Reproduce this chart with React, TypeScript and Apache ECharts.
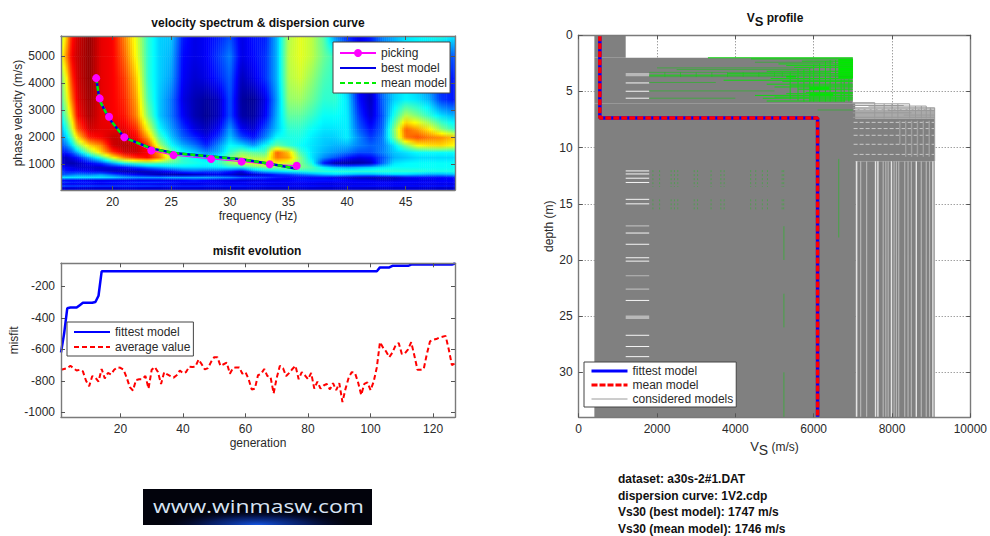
import React, { useEffect, useRef } from "react";
import * as echarts from "echarts";

const FONT = '"Liberation Sans", Arial, sans-serif';
const INK = "#2a2a2a";
const BOX = "#7a7a7a";

// ---- velocity spectrum (normalised amplitude)
const heatFrequencies = [15.6, 16, 16.5, 17, 18, 19, 20, 21, 22, 23, 24, 25, 26, 27, 28, 29, 30, 31, 32, 33, 34, 35, 36, 37, 38, 39, 40, 41, 42, 43, 44, 45, 46, 47, 48, 49.2];
const heatVelocities = [5750, 5000, 4200, 3400, 2800, 2300, 2000, 1700, 1450, 1250, 1050, 900, 750, 620, 520, 420, 340, 270, 200, 130, 50];
const heatValues: number[][] = [
  [.55, .65, .85, .92, .98, .9, .88, .75, .6, .42, .33, .32, .15, .1, .12, .15, .2, .1, .14, .15, .3, .55, .6, .56, .46, .25, .15, .1, .15, .25, .3, .35, .37, .38, .4, .35],
  [.6, .72, .88, .93, .98, .9, .88, .78, .62, .42, .33, .3, .13, .1, .12, .18, .25, .1, .13, .17, .3, .56, .6, .56, .48, .42, .3, .15, .15, .25, .3, .35, .35, .3, .25, .2],
  [.5, .6, .82, .92, .98, .9, .88, .82, .68, .42, .33, .28, .12, .08, .1, .15, .22, .06, .1, .17, .3, .55, .58, .52, .45, .42, .3, .12, .1, .25, .32, .35, .3, .22, .15, .15],
  [.45, .55, .75, .9, .97, .9, .88, .84, .72, .45, .32, .24, .1, .05, .03, .06, .2, .03, .02, .1, .28, .52, .53, .48, .42, .42, .35, .14, .06, .22, .33, .37, .35, .3, .18, .14],
  [.38, .48, .66, .87, .96, .9, .88, .86, .75, .5, .32, .24, .12, .05, .02, .06, .2, .04, .03, .12, .3, .47, .47, .43, .38, .38, .36, .18, .08, .2, .4, .56, .5, .42, .35, .3],
  [.3, .38, .55, .78, .92, .9, .9, .9, .84, .62, .38, .28, .18, .1, .06, .12, .28, .12, .08, .2, .32, .42, .42, .38, .35, .35, .36, .22, .14, .22, .5, .78, .72, .64, .52, .42],
  [.25, .32, .45, .65, .85, .88, .93, .93, .88, .72, .45, .32, .22, .16, .1, .18, .32, .2, .14, .25, .38, .4, .4, .36, .33, .33, .36, .26, .18, .24, .48, .76, .8, .76, .74, .68],
  [.2, .24, .33, .48, .66, .74, .92, .95, .93, .84, .55, .38, .3, .24, .16, .26, .38, .35, .28, .38, .48, .42, .38, .35, .32, .3, .3, .25, .22, .24, .35, .5, .62, .65, .66, .62],
  [.14, .15, .2, .3, .5, .66, .82, .92, .93, .88, .72, .48, .38, .33, .26, .3, .42, .5, .46, .45, .78, .68, .44, .35, .3, .27, .24, .2, .2, .25, .32, .35, .38, .38, .38, .38],
  [.08, .06, .1, .14, .28, .42, .6, .75, .83, .87, .76, .55, .42, .38, .34, .38, .5, .58, .55, .55, .76, .72, .5, .35, .26, .2, .14, .1, .12, .2, .3, .32, .34, .34, .34, .34],
  [.1, .06, .04, .06, .12, .18, .3, .4, .45, .48, .46, .45, .42, .4, .38, .42, .52, .58, .6, .62, .62, .58, .5, .4, .14, .03, .02, .03, .06, .22, .35, .37, .38, .38, .38, .38],
  [.14, .12, .1, .08, .08, .07, .1, .14, .2, .26, .3, .33, .35, .35, .35, .36, .4, .4, .46, .5, .5, .52, .5, .45, .36, .3, .28, .3, .32, .35, .38, .38, .38, .38, .38, .38],
  [.2, .15, .14, .14, .12, .1, .06, .04, .04, .06, .1, .14, .2, .22, .2, .2, .16, .1, .25, .32, .35, .38, .4, .42, .42, .42, .42, .42, .42, .42, .42, .42, .42, .4, .4, .4],
  [.2, .22, .24, .26, .25, .28, .22, .16, .12, .08, .05, .04, .04, .06, .08, .1, .08, .04, .06, .1, .15, .18, .22, .26, .3, .32, .3, .28, .28, .3, .32, .32, .3, .28, .28, .3],
  [.36, .36, .36, .36, .36, .36, .34, .3, .28, .28, .28, .3, .3, .3, .3, .28, .26, .22, .2, .18, .14, .12, .12, .12, .12, .1, .08, .06, .05, .05, .06, .1, .12, .12, .12, .14],
  [.12, .12, .12, .12, .1, .1, .1, .1, .1, .1, .1, .1, .12, .14, .12, .1, .1, .08, .08, .1, .1, .12, .14, .14, .14, .14, .12, .1, .1, .08, .08, .1, .1, .1, .12, .12],
  [.18, .18, .16, .16, .16, .14, .16, .16, .18, .18, .18, .16, .14, .14, .13, .13, .12, .13, .14, .14, .13, .13, .13, .13, .12, .12, .12, .13, .13, .13, .13, .13, .13, .13, .13, .13],
  [.1, .1, .1, .1, .1, .09, .1, .1, .1, .1, .09, .09, .08, .08, .09, .09, .09, .09, .08, .08, .08, .09, .09, .09, .08, .08, .09, .09, .09, .1, .1, .1, .09, .09, .09, .09],
  [.22, .22, .21, .21, .21, .2, .2, .2, .2, .2, .19, .19, .18, .18, .18, .18, .17, .17, .16, .16, .15, .15, .15, .15, .14, .14, .14, .14, .15, .15, .14, .14, .14, .15, .15, .15],
  [.05, .05, .06, .06, .05, .05, .05, .06, .06, .05, .05, .06, .06, .06, .05, .05, .06, .06, .06, .05, .05, .06, .06, .06, .05, .05, .06, .06, .05, .05, .05, .06, .06, .06, .05, .05],
  [.13, .13, .13, .13, .13, .13, .12, .12, .13, .13, .13, .12, .12, .13, .13, .12, .12, .12, .13, .13, .13, .12, .12, .12, .13, .13, .13, .12, .12, .12, .13, .13, .13, .12, .12, .12],
];

const pickingPoints = [[18.6, 4190], [18.9, 3440], [19.7, 2760], [21, 2000], [23.3, 1510], [25.2, 1340], [28.4, 1200], [31, 1100], [33.4, 1000], [35.7, 950]];
const bestModelPoints = [[18.6, 4190], [18.9, 3350], [19.7, 2700], [21, 1990], [23.3, 1590], [25.2, 1420], [28.4, 1290], [31, 1190], [33.4, 1020], [35.7, 840]];

// ---- misfit evolution
const fittestPoints = [[1, -620], [2, -500], [3, -340], [4, -335], [6, -335], [7, -320], [8, -305], [11, -305], [12, -300], [13, -260], [14, -105], [102, -105], [103, -80], [106, -80], [107, -70], [112, -70], [113, -62], [126, -62], [127, -55]];
const averageMisfit = [-730, -725, -720, -705, -720, -735, -730, -740, -800, -835, -770, -780, -805, -725, -785, -750, -760, -730, -715, -718, -730, -780, -840, -862, -795, -790, -790, -770, -850, -730, -712, -745, -820, -745, -760, -770, -780, -765, -735, -752, -745, -710, -712, -710, -665, -695, -728, -720, -680, -650, -650, -705, -695, -685, -755, -720, -715, -715, -755, -745, -790, -855, -850, -765, -755, -725, -770, -775, -880, -780, -705, -720, -770, -750, -725, -705, -790, -745, -765, -790, -750, -850, -805, -850, -830, -820, -855, -815, -860, -815, -935, -850, -780, -745, -750, -810, -890, -820, -810, -860, -805, -715, -555, -590, -615, -650, -620, -575, -560, -630, -625, -600, -555, -640, -730, -730, -725, -630, -550, -540, -535, -525, -520, -515, -600, -700, -690];

// ---- Vs profile
const fittestProfile = [[540, 0], [540, 7.35], [6100, 7.35], [6100, 34]];
const meanProfile = [[540, 0], [540, 7.35], [6100, 7.35], [6100, 34]];
// [vMin, depthTop, vMax, depthBottom] of the area the considered models fill solidly
const consideredFill = [[400, 0, 1200, 2], [400, 2, 7000, 6.05], [400, 6.05, 7060, 34], [7000, 7.4, 9090, 11.2], [7060, 11.2, 9090, 34]];
const consideredHaze = [[7000, 6.5, 9090, 7.4]];
const whiteGapDepths = [4.24, 4.98, 5.6, 12.07, 12.34, 12.72, 13.1, 14.6, 15.0, 17.6, 18.6, 19.8, 20.1, 23.6, 26.7, 27.7, 28.6];
const paleGapDepths = [3.4, 3.5, 3.6, 16.97, 21.4, 22.6, 25, 25.1, 25.2];
const brightStripeVelocities = [7098, 7580, 7640, 7986, 8621, 9044];
const dimStripeVelocities = [7200, 7352, 7775, 7842, 7902, 8054, 8113, 8172, 8325, 8410, 8494, 8748, 8875, 8960];
const outlineHorizontal = [[6, 7000, 7560], [6.1, 7000, 8450], [6.25, 7000, 8300], [6.3, 7400, 8875], [6.45, 7000, 9090], [6.7, 7900, 9090], [6.9, 7000, 8500], [7.1, 8300, 9090], [7.3, 7000, 9090]];
const outlineVertical = [[7560, 6, 7.4], [7800, 6.1, 7.4], [8000, 6.1, 7.4], [8150, 6.1, 7.4], [8450, 6.1, 7.4], [8600, 6.3, 7.4], [8750, 6.3, 7.4], [8875, 6.3, 7.4], [8980, 6.45, 7.4], [9090, 6.45, 11.2]];
const paleDashDepths = [6.6, 7.75, 8.3, 8.9, 9.7, 10.6];
const paleDashVerticals = [[8200, 7.6, 9.7], [8350, 7.6, 10.8], [8500, 7.6, 10.8], [8650, 7.6, 10.8], [8800, 7.6, 10.8], [8950, 7.6, 10.8]];
const greenHorizontal = [[2, 3300, 7000], [2.1, 4400, 7000], [2.3, 5700, 7000], [2.55, 5100, 7000], [2.7, 5300, 7000], [2.85, 5500, 7000], [3.2, 4800, 7000], [3.42, 3800, 7000], [3.55, 1800, 7000], [3.85, 4900, 7000], [4, 3700, 7000], [4.1, 5200, 7000], [4.35, 4800, 7000], [4.5, 5400, 7000], [4.6, 5000, 7000], [4.8, 5600, 7000], [5.1, 5800, 7000], [5.2, 5300, 7000], [5.35, 4500, 7000], [5.5, 5000, 7000], [5.6, 4700, 7000], [5.75, 5900, 7000], [5.85, 4800, 6800]];
const greenFaintHorizontal = [[2.4, 4500, 6500], [2.9, 2000, 6000], [3.05, 2500, 5900], [3.3, 1800, 6400], [3.68, 1800, 7000], [4.2, 1800, 3500], [4.95, 1800, 5000], [5.6, 1800, 4000], [6.65, 6100, 7000]];
const greenVertical = [[5400, 3.3, 5.7], [5600, 3, 5.8], [5750, 3, 5.9], [5900, 2.9, 5.9], [6000, 2.6, 5.9], [6150, 2.5, 5.9], [6300, 2.3, 5.9], [6420, 2.2, 5.9], [6560, 2.2, 5.9], [6700, 3.9, 5.9], [6780, 3.9, 5.9], [6900, 3.9, 5.9]];
const greenFaintVertical = [[5200, 3.3, 3.7], [5000, 3.3, 3.7], [4600, 3.3, 3.7], [4200, 3.3, 3.7], [3800, 3.3, 3.7], [3400, 3.3, 3.7], [3000, 3.3, 3.7], [2600, 3.3, 3.7], [2200, 3.3, 3.7], [5240, 17, 20], [5240, 23, 26], [5240, 30, 34], [6640, 11, 18]];
const greenSolid = [[6630, 2.1, 7005, 3.8], [5900, 4.55, 6400, 4.9], [5900, 5.15, 6500, 5.45], [5300, 3.6, 5550, 3.75]];
const faintGreenVelocities = [1895, 2065, 2360, 2445, 2530, 2950, 3035, 3380, 3630, 3715, 4390, 4520, 4690, 4820, 5195, 5235];
const faintGreenSpans = [[12, 13.5], [14.6, 15.6]];

const infoLines = ["dataset: a30s-2#1.DAT", "dispersion curve: 1V2.cdp", "Vs30 (best model): 1747 m/s", "Vs30 (mean model): 1746 m/s"];

function jet(t: number) {
  const c = (x: number) => Math.round(255 * Math.max(0, Math.min(1, x)));
  const r = t < 0.375 ? 0 : t < 0.625 ? (t - 0.375) / 0.25 : t < 0.875 ? 1 : 1 - (t - 0.875) / 0.25;
  const g = t < 0.125 ? 0 : t < 0.375 ? (t - 0.125) / 0.25 : t < 0.625 ? 1 : t < 0.875 ? 1 - (t - 0.625) / 0.25 : 0;
  const b = t < 0.125 ? 0.5 + t / 0.25 : t < 0.375 ? 1 : t < 0.625 ? 1 - (t - 0.375) / 0.25 : 0;
  return `rgb(${c(r)},${c(g)},${c(b)})`;
}

function heatCells() {
  const cells: number[][] = [];
  for (let r = 0; r + 1 < heatVelocities.length; r++) {
    for (let c = 0; c + 1 < heatFrequencies.length; c++) {
      cells.push([
        heatFrequencies[c], heatVelocities[r], heatFrequencies[c + 1], heatVelocities[r + 1],
        heatValues[r][c], heatValues[r][c + 1], heatValues[r + 1][c], heatValues[r + 1][c + 1],
      ]);
    }
  }
  return cells;
}

function renderHeatCell(_p: any, api: any) {
  const a = api.coord([api.value(0), api.value(1)]);
  const b = api.coord([api.value(2), api.value(3)]);
  const [tl, tr, bl, br] = [api.value(4), api.value(5), api.value(6), api.value(7)];
  const w = b[0] - a[0];
  const h = b[1] - a[1];
  const n = Math.max(1, Math.ceil(w / 2));
  const children: any[] = [];
  for (let i = 0; i < n; i++) {
    const t = (i + 0.5) / n;
    const top = tl + (tr - tl) * t;
    const bot = bl + (br - bl) * t;
    children.push({
      type: "rect",
      shape: { x: a[0] + (w * i) / n, y: a[1], width: w / n + 0.5, height: h + 0.5 },
      style: {
        fill: {
          type: "linear", x: 0, y: 0, x2: 0, y2: 1,
          colorStops: [
            { offset: 0, color: jet(top) },
            { offset: 0.5, color: jet((top + bot) / 2) },
            { offset: 1, color: jet(bot) },
          ],
        },
      },
    });
  }
  return { type: "group", children };
}

function bandSeries(bands: number[][], fill: string, idx = 2) {
  return {
    type: "custom", xAxisIndex: idx, yAxisIndex: idx, silent: true, clip: true,
    encode: { x: [0, 2], y: [1, 3] },
    data: bands,
    renderItem: (_p: any, api: any) => {
      const a = api.coord([api.value(0), api.value(1)]);
      const b = api.coord([api.value(2), api.value(3)]);
      return { type: "rect", shape: { x: a[0], y: a[1], width: b[0] - a[0], height: b[1] - a[1] }, style: { fill } };
    },
  };
}

// segments drawn by a line series, broken with empty points
function segments(list: number[][][], name: string | undefined, color: string, width: number, extra: any = {}) {
  const data: any[] = [];
  list.forEach(([p, q]) => { data.push(p, q, ["-", "-"]); });
  return {
    type: "line", name, xAxisIndex: 2, yAxisIndex: 2, symbol: "none", silent: true, connectNulls: false,
    data, lineStyle: { color, width, ...extra }, itemStyle: { color },
  };
}
const horiz = (l: number[][]) => l.map(([d, a, b]) => [[a, d], [b, d]]);
const vert = (l: number[][]) => l.map(([v, a, b]) => [[v, a], [v, b]]);

const axisText = { color: INK, fontSize: 12, fontFamily: FONT };
function boxAxis(position: string, gridIndex: number, min: number, max: number, ticks: number[], extra: any = {}) {
  return {
    type: "value", gridIndex, position, min, max, z: 10,
    axisLine: { show: true, onZero: false, lineStyle: { color: BOX, width: 1.4 } },
    axisTick: { show: true, inside: true, length: 4, customValues: ticks, lineStyle: { color: "#555" } },
    axisLabel: { show: false, customValues: ticks },
    splitLine: { show: false },
    ...extra,
  };
}
function mainAxis(position: string, gridIndex: number, min: number, max: number, ticks: number[], name: any, nameGap: number, extra: any = {}) {
  return boxAxis(position, gridIndex, min, max, ticks, {
    name, nameLocation: "middle", nameGap,
    nameTextStyle: { ...axisText, rich: { a: { ...axisText, fontSize: 13 }, b: { ...axisText, fontSize: 14, padding: [7, 0, 0, 0] }, c: { ...axisText } } },
    axisLabel: { show: true, customValues: ticks, margin: 6, formatter: (v: number) => String(v), ...axisText },
    ...extra,
  });
}
function gridOnlyAxis(position: string, min: number, max: number, ticks: number[], extra: any = {}) {
  return {
    type: "value", gridIndex: 2, position, min, max, z: 0,
    axisLine: { show: false },
    axisTick: { show: false, customValues: ticks },
    axisLabel: { show: false, customValues: ticks },
    splitLine: { show: true, lineStyle: { color: "#777", type: [1, 2], width: 1 } },
    ...extra,
  };
}
const legendBase = {
  orient: "vertical", selectedMode: false, backgroundColor: "#fff", borderColor: "#444", borderWidth: 1,
  itemWidth: 36, itemHeight: 10, z: 30,
  textStyle: { color: INK, fontSize: 12, fontFamily: FONT },
};
// a legend row that shows only the line of its series, without a marker
const lineOnly = (name: string, lineStyle?: any) => ({
  name,
  itemStyle: { color: "transparent", borderColor: "transparent", borderWidth: 0, opacity: 0 },
  ...(lineStyle ? { lineStyle } : {}),
});

const freqTicks = [20, 25, 30, 35, 40, 45];
const phaseTicks = [1000, 2000, 3000, 4000, 5000];
const genTicks = [20, 40, 60, 80, 100, 120];
const misfitTicks = [-1000, -800, -600, -400, -200];
const vsTicks = [0, 2000, 4000, 6000, 8000, 10000];
const depthTicks = [0, 5, 10, 15, 20, 25, 30];

export default function App() {
  const ref = useRef<HTMLDivElement>(null);
  useEffect(() => {
    const chart = echarts.init(ref.current!, undefined, { renderer: "svg" });
    const titleStyle = { fontSize: 12, fontWeight: "bold" as const, color: "#111", fontFamily: FONT };
    chart.setOption({
      animation: false,
      backgroundColor: "#fff",
      title: [
        { text: "velocity spectrum & dispersion curve", left: 258, top: 17, textAlign: "center", textStyle: titleStyle, padding: 0 },
        { text: "misfit evolution", left: 257, top: 245, textAlign: "center", textStyle: titleStyle, padding: 0 },
        {
          text: "{a|V}{b|S}{a| profile}", left: 775, top: 8, textAlign: "center", padding: 0,
          textStyle: { ...titleStyle, rich: { a: { ...titleStyle }, b: { ...titleStyle, fontSize: 13, padding: [7, 0, 0, 0] } } },
        },
      ],
      grid: [
        { left: 61, top: 36, width: 394, height: 154 },
        { left: 61, top: 263.3, width: 394, height: 154 },
        { left: 578.7, top: 35.3, width: 394, height: 382 },
      ],
      xAxis: [
        mainAxis("bottom", 0, 15.6, 49.2, freqTicks, "frequency (Hz)", 20),
        mainAxis("bottom", 1, 1, 127, genTicks, "generation", 20),
        mainAxis("bottom", 2, 0, 10000, vsTicks, "{a|V}{b|S}{c| (m/s)}", 16),
        boxAxis("top", 0, 15.6, 49.2, freqTicks),
        boxAxis("top", 1, 1, 127, genTicks),
        boxAxis("top", 2, 0, 10000, vsTicks),
        gridOnlyAxis("bottom", 0, 10000, vsTicks),
      ],
      yAxis: [
        mainAxis("left", 0, 50, 5750, phaseTicks, "phase velocity (m/s)", 34),
        mainAxis("left", 1, -1032, -54, misfitTicks, "misfit", 36),
        mainAxis("left", 2, 0, 34, depthTicks, "depth (m)", 20, { inverse: true }),
        boxAxis("right", 0, 50, 5750, phaseTicks),
        boxAxis("right", 1, -1032, -54, misfitTicks),
        boxAxis("right", 2, 0, 34, depthTicks, { inverse: true }),
        gridOnlyAxis("left", 0, 34, depthTicks, { inverse: true }),
      ],
      legend: [
        { ...legendBase, left: 333, top: 42, padding: [5, 3, 4, 6], itemGap: 3, data: ["picking", lineOnly("best model"), lineOnly("mean model")] },
        { ...legendBase, left: 67, top: 322, padding: [4, 3, 3, 6], itemGap: 3, data: [lineOnly("fittest model"), lineOnly("average value")] },
        {
          ...legendBase, left: 584, top: 362, padding: [3, 3, 2, 6], itemGap: 2, data: [
            lineOnly("fittest model", { color: "#0000ff", width: 3 }),
            lineOnly("mean model", { color: "#ff0000", width: 3, type: [6, 2] }),
            lineOnly("considered models", { color: "#9a9a9a", width: 1 }),
          ],
        },
      ],
      series: [
        // spectrum
        {
          type: "custom", xAxisIndex: 0, yAxisIndex: 0, silent: true, clip: true,
          encode: { x: [0, 2], y: [1, 3] }, data: heatCells(), renderItem: renderHeatCell,
        },
        {
          type: "line", name: "picking", xAxisIndex: 0, yAxisIndex: 0, data: pickingPoints, silent: true,
          symbol: "circle", symbolSize: 8, lineStyle: { color: "#ff00ff", width: 1 }, itemStyle: { color: "#ff00ff" },
        },
        {
          type: "line", name: "best model", xAxisIndex: 0, yAxisIndex: 0, data: bestModelPoints, silent: true,
          symbol: "none", lineStyle: { color: "#0000e6", width: 2.5 }, itemStyle: { color: "#0000e6" },
        },
        {
          type: "line", name: "mean model", xAxisIndex: 0, yAxisIndex: 0, data: bestModelPoints, silent: true,
          symbol: "none", lineStyle: { color: "#00ee00", width: 2.5, type: [5, 3] }, itemStyle: { color: "#00ee00" },
        },
        // misfit
        {
          type: "line", name: "fittest model", xAxisIndex: 1, yAxisIndex: 1, data: fittestPoints, silent: true,
          symbol: "none", lineStyle: { color: "#0000ff", width: 2.5 }, itemStyle: { color: "#0000ff" },
        },
        {
          type: "line", name: "average value", xAxisIndex: 1, yAxisIndex: 1, silent: true,
          data: averageMisfit.map((v, i) => [i + 1, v]),
          symbol: "none", lineStyle: { color: "#ff0000", width: 2, type: [5, 3] }, itemStyle: { color: "#ff0000" },
        },
        // profile
        bandSeries(consideredHaze, "#aaaaaa"),
        bandSeries(consideredFill, "#808080"),
        segments(vert(dimStripeVelocities.map((v) => [v, 11.2, 34])), undefined, "#b4b4b4", 1.2),
        segments(vert(brightStripeVelocities.map((v) => [v, 11.2, 34])), undefined, "#e4e4e4", 1.4),
        segments(horiz(paleGapDepths.map((d) => [d, 1200, 1800])), undefined, "#b8b8b8", 1.2),
        segments(horiz(whiteGapDepths.map((d) => [d, 1200, 1800])), undefined, "#f4f4f4", 1),
        segments(horiz(paleDashDepths.map((d) => [d, 7020, 9080])), undefined, "#c8c8c8", 1, { type: [4, 2] }),
        segments(vert(paleDashVerticals), undefined, "#a0a0a0", 1.4),
        bandSeries(greenSolid, "#00e800"),
        segments([...horiz(greenFaintHorizontal), ...vert(greenFaintVertical)], undefined, "#18c018", 0.8, { opacity: 0.7 }),
        segments([...horiz(greenHorizontal), ...vert(greenVertical)], undefined, "#10d810", 1),
        segments(
          faintGreenVelocities.flatMap((v) => faintGreenSpans.map((s) => [[v, s[0]], [v, s[1]]])),
          undefined, "#30b030", 1, { opacity: 0.55, type: [2, 2] },
        ),
        segments([...horiz(outlineHorizontal), ...vert(outlineVertical)], "considered models", "#9a9a9a", 1),
        {
          type: "line", name: "fittest model", xAxisIndex: 2, yAxisIndex: 2, data: fittestProfile, silent: true,
          symbol: "none", lineStyle: { color: "#0000ff", width: 3.5 }, itemStyle: { color: "#0000ff" },
        },
        {
          type: "line", name: "mean model", xAxisIndex: 2, yAxisIndex: 2, data: meanProfile, silent: true,
          symbol: "none", lineStyle: { color: "#ff0000", width: 3.5, type: [6, 2] }, itemStyle: { color: "#ff0000" },
        },
      ],
      graphic: [
        ...infoLines.map((text, i) => ({
          type: "text", x: 618, y: [473, 490, 506, 523][i], z: 40,
          style: { text, fill: "#111", fontSize: 12, fontWeight: "bold", fontFamily: FONT },
        })),
        {
          type: "rect", x: 143, y: 489, shape: { width: 229, height: 36 }, z: 40,
          style: { fill: "#02030c" },
        },
        {
          type: "rect", x: 143, y: 489, shape: { width: 229, height: 36 }, z: 41,
          style: {
            fill: {
              type: "radial", x: 0.5, y: 1, r: 0.42,
              colorStops: [
                { offset: 0, color: "rgba(20,90,240,0.95)" },
                { offset: 0.5, color: "rgba(10,50,170,0.55)" },
                { offset: 1, color: "rgba(0,0,40,0)" },
              ],
            },
          },
        },
        {
          type: "text", x: 153, y: 497, z: 42, scaleX: 1.27,
          style: { text: "www.winmasw.com", fill: "#d8e4f4", fontSize: 18, fontFamily: '"Open Sans", sans-serif' },
        },
      ],
    });
    return () => chart.dispose();
  }, []);
  return <div ref={ref} style={{ position: "fixed", left: 0, top: 0, width: 990, height: 536 }} />;
}
